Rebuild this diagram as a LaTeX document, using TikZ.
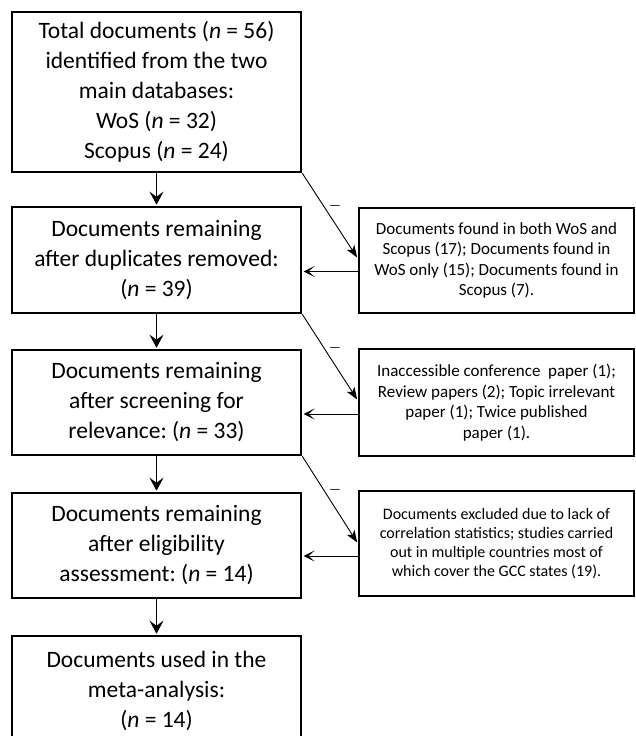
\documentclass[tikz,border=0pt]{standalone}
\usepackage{fontspec}
\setmainfont{Carlito}
\frenchspacing
\usepackage{tikz}
\usetikzlibrary{arrows.meta}
\usetikzlibrary{positioning}
\newcommand{\mainboxfontsize}{\fontsize{23.5}{30}\selectfont}
\newcommand{\sideboxfontsize}{\fontsize{17}{20.5}\selectfont}
\newcommand{\smallsideboxfontsize}{\fontsize{16}{19}\selectfont}
\newcommand{\minusfontsize}{\fontsize{13}{13}\selectfont}
\tikzstyle{mainbox}=[
    draw,
    rectangle,
    line width=2.6pt,
    minimum width=289pt,
    minimum height=105pt,
    align=center,
    inner sep=0pt,
    font=\mainboxfontsize
]
\tikzstyle{sidebox}=[
    draw,
    rectangle,
    line width=2.4pt,
    minimum width=275pt,
    minimum height=105pt,
    align=center,
    inner sep=0pt,
    font=\sideboxfontsize
]
\tikzstyle{flowarrow}=[
    line width=1.8pt,
    -{Stealth[length=13pt,width=14pt,inset=5pt]},
    shorten >=1pt
]
\tikzstyle{removearrow}=[
    line width=1pt,
    -{Stealth[length=11pt,width=11pt,inset=6pt]},
    shorten >=1.3pt
]
\tikzstyle{cutline}=[
    line width=0.9pt,
    -{Stealth[length=12pt,width=9pt,inset=3pt]},
    shorten >=1.2pt
]
\tikzstyle{minuslabel}=[
    inner sep=0pt,
    xshift=5pt,
    yshift=8pt,
    font=\minusfontsize
]

\begin{document}
\begin{tikzpicture}[x=1pt,y=-1pt]
    \useasboundingbox (0,0) rectangle (636,736);

    % nodes
    \node[mainbox,minimum height=160pt] (total) at (156.5,92) {Total documents (\textit{n} = 56)\\identified from the two\\main databases:\\WoS (\textit{n} = 32)\\Scopus (\textit{n} = 24)};
    \node[mainbox,minimum height=106pt] (duplicates) at (156.5,260) {Documents remaining\\after duplicates removed:\\(\textit{n} = 39)};
    \node[mainbox] (screening) at (156.5,402.5) {Documents remaining\\after screening for\\relevance: (\textit{n} = 33)};
    \node[mainbox] (eligibility) at (156.5,545.5) {Documents remaining\\after eligibility\\assessment: (\textit{n} = 14)};
    \node[mainbox,minimum height=110pt] (included) at (156.5,691) {Documents used in the\\meta-analysis:\\(\textit{n} = 14)};

    \node[sidebox] (dupremoved) at (496.5,260.5) {Documents found in both WoS and\\Scopus (17); Documents found in\\WoS only (15); Documents found in\\Scopus (7).};
    \node[sidebox,minimum height=107pt] (scrremoved) at (496.5,402.5) {Inaccessible conference\ \ paper (1);\\Review papers (2); Topic irrelevant\\paper (1); Twice published\\paper (1).};
    \node[sidebox,font=\smallsideboxfontsize] (eliremoved) at (496.5,543.5) {Documents excluded due to lack of\\correlation statistics; studies carried\\out in multiple countries most of\\which cover the GCC states (19).};

    % edges
    \draw[flowarrow] (total) -- (duplicates);
    \draw[flowarrow] (duplicates) -- (screening);
    \draw[flowarrow] (screening) -- (eligibility);
    \draw[flowarrow] (eligibility) -- (included);

    \draw[cutline] (total.south east) -- ([yshift=2pt]dupremoved.west) node[minuslabel,pos=0.5] {---};
    \draw[cutline] (duplicates.south east) -- ([yshift=2pt]scrremoved.west) node[minuslabel,pos=0.5] {---};
    \draw[cutline] (screening.south east) -- (eliremoved.west) node[minuslabel,pos=0.5] {---};

    \draw[removearrow] ([yshift=-11pt]dupremoved.west) -- ([yshift=-11pt]dupremoved.west -| duplicates.east);
    \draw[removearrow] ([yshift=-11.5pt]scrremoved.west) -- ([yshift=-11.5pt]scrremoved.west -| screening.east);
    \draw[removearrow] ([yshift=-12.5pt]eliremoved.west) -- ([yshift=-12.5pt]eliremoved.west -| eligibility.east);
\end{tikzpicture}
\end{document}
